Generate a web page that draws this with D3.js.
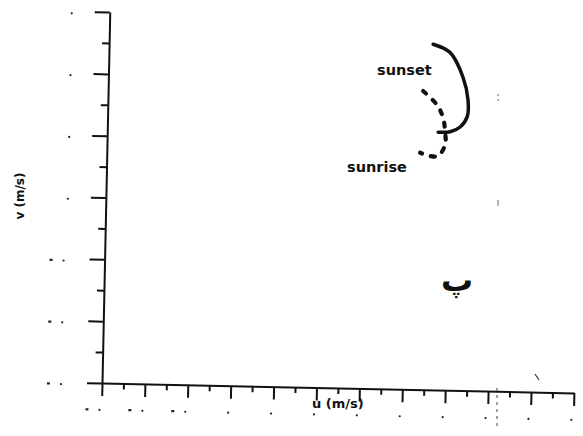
<!doctype html>
<html lang="en">
  <head>
    <meta charset="utf-8" />
    <title>Hodograph</title>
    <script src="https://cdn.jsdelivr.net/npm/d3@7"></script>
    <style>
     body {
       margin: 0;
       background: #fff;
     }
     text {
       font-family: "DejaVu Sans", Verdana, sans-serif;
       font-weight: bold;
       fill: #111;
     }
     .axis path, .axis line {
       stroke: #111;
       stroke-width: 2;
     }
    </style>
  </head>

  <body>
    <svg id="chart" width="583" height="436"></svg>

    <script>
     // tick values (labels are faded to dots in the scan)
     var uTicks = [-3, -2, -1, 0, 1, 2, 3, 4, 5, 6, 7, 8];
     var uMinor = [-2.5, -1.5, -0.5, 0.5, 1.5, 2.5, 3.5, 4.5, 5.5, 6.5, 7.5];
     var vTicks = [-3, -2, -1, 0, 1, 2, 3];
     var vMinor = [-2.5, -1.5, -0.5, 0.5, 1.5, 2.5];

     // hodograph (m/s)
     var sunsetU = [4.55, 4.95, 5.26, 5.39, 5.38, 5.22, 4.99, 4.71];
     var sunsetV = [2.59, 2.46, 2.07, 1.70, 1.43, 1.26, 1.18, 1.17];
     var sunriseU = [4.34, 4.67, 4.82, 4.87, 4.88, 4.70, 4.30];
     var sunriseV = [1.83, 1.61, 1.40, 1.18, 0.97, 0.78, 0.83];

     var svg = d3.select("#chart");

     var x = d3.scaleLinear().domain([-3, 8]).range([102, 574]);
     var y = d3.scaleLinear().domain([-3, 3]).range([383, 12]);

     // the scan is turned a little
     var g = svg.append("g")
       .attr("transform", "rotate(1.2," + x(-3) + "," + y(-3) + ")");

     // x axis
     g.append("g")
       .attr("class", "axis")
       .attr("transform", "translate(0," + y(-3) + ")")
       .call(d3.axisBottom(x).tickValues(uTicks).tickSize(13).tickSizeOuter(0).tickFormat(""));
     g.append("g")
       .attr("class", "axis")
       .attr("transform", "translate(0," + y(-3) + ")")
       .call(d3.axisBottom(x).tickValues(uMinor).tickSize(6).tickFormat(""))
       .select(".domain").remove();

     // y axis
     g.append("g")
       .attr("class", "axis")
       .attr("transform", "translate(" + x(-3) + ",0)")
       .call(d3.axisLeft(y).tickValues(vTicks).tickSize(15).tickSizeOuter(0).tickFormat(""));
     g.append("g")
       .attr("class", "axis")
       .attr("transform", "translate(" + x(-3) + ",0)")
       .call(d3.axisLeft(y).tickValues(vMinor).tickSize(7).tickFormat(""))
       .select(".domain").remove();

     // faded tick labels: only specks are left
     g.selectAll(".udot").data(uTicks).enter().append("circle")
       .attr("cx", function(d) { return x(d) - 2; })
       .attr("cy", y(-3) + 27)
       .attr("r", 1.1)
       .attr("fill", "#222");
     g.selectAll(".udash").data(uTicks.filter(function(d) { return d < 0; })).enter().append("rect")
       .attr("x", function(d) { return x(d) - 16; })
       .attr("y", y(-3) + 25.5)
       .attr("width", 3)
       .attr("height", 2.2)
       .attr("fill", "#222");
     g.selectAll(".vdot").data(vTicks).enter().append("circle")
       .attr("cx", function(d) { return d < 0 ? x(-3) - 41 : x(-3) - 38; })
       .attr("cy", function(d) { return y(d) + 2; })
       .attr("r", 1.1)
       .attr("fill", "#222");
     g.selectAll(".vdash").data(vTicks.filter(function(d) { return d < 0; })).enter().append("rect")
       .attr("x", function(d) { return x(-3) - 55; })
       .attr("y", function(d) { return y(d) + 0.5; })
       .attr("width", 3)
       .attr("height", 2.2)
       .attr("fill", "#222");

     var line = d3.line()
       .x(function(d) { return x(d[0]); })
       .y(function(d) { return y(d[1]); })
       .curve(d3.curveCatmullRom);

     g.append("path")
       .datum(d3.zip(sunsetU, sunsetV))
       .attr("d", line)
       .attr("fill", "none")
       .attr("stroke", "#111")
       .attr("stroke-width", 3.5)
       .attr("stroke-linecap", "round");

     g.append("path")
       .datum(d3.zip(sunriseU, sunriseV))
       .attr("d", line)
       .attr("fill", "none")
       .attr("stroke", "#111")
       .attr("stroke-width", 4.2)
       .attr("stroke-linecap", "round")
       .attr("stroke-dasharray", "4,9");

     // scan specks
     svg.append("line")
       .attr("x1", 497).attr("y1", 388).attr("x2", 497).attr("y2", 428)
       .attr("stroke", "#444").attr("stroke-width", 1)
       .attr("stroke-dasharray", "3,4");
     svg.append("line")
       .attr("x1", 498).attr("y1", 94).attr("x2", 498).attr("y2", 102)
       .attr("stroke", "#666").attr("stroke-width", 1)
       .attr("stroke-dasharray", "2,3");
     svg.append("line")
       .attr("x1", 498).attr("y1", 200).attr("x2", 498).attr("y2", 206)
       .attr("stroke", "#666").attr("stroke-width", 1);
     svg.append("line")
       .attr("x1", 535).attr("y1", 374).attr("x2", 539).attr("y2", 380)
       .attr("stroke", "#333").attr("stroke-width", 1.2);

     // labels
     svg.append("text")
       .attr("x", 377).attr("y", 75)
       .attr("font-size", 14.5)
       .text("sunset");
     svg.append("text")
       .attr("x", 347).attr("y", 171.5)
       .attr("font-size", 14.5)
       .text("sunrise");
     svg.append("text")
       .attr("x", 312).attr("y", 408)
       .attr("font-size", 13)
       .text("u (m/s)");
     svg.append("text")
       .attr("transform", "translate(24,196) rotate(-90)")
       .attr("text-anchor", "middle")
       .attr("font-size", 12)
       .text("v (m/s)");
     svg.append("text")
       .attr("x", 457).attr("y", 291)
       .attr("text-anchor", "middle")
       .attr("font-size", 32)
       .text("پ");
    </script>
  </body>
</html>
